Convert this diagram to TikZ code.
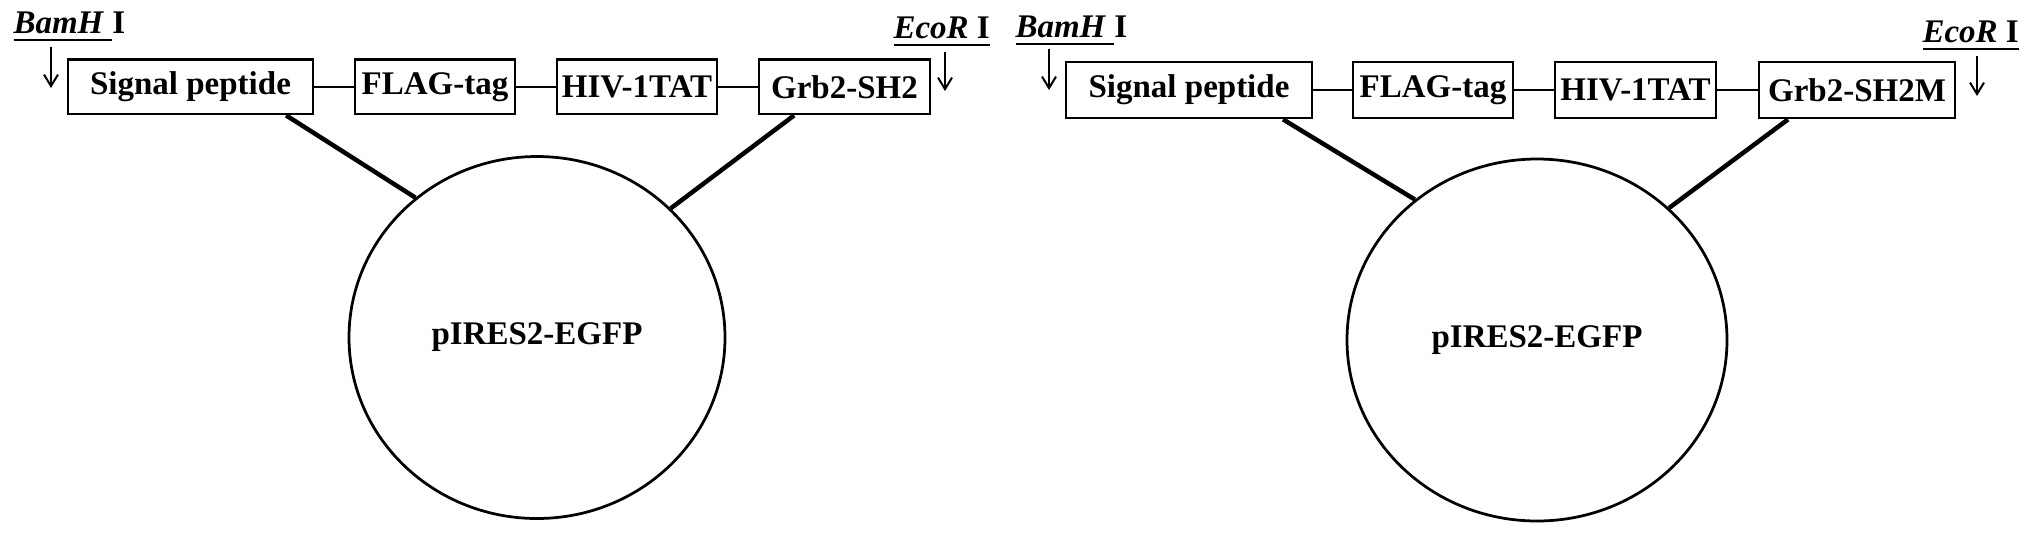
\documentclass[tikz,border=0pt]{standalone}
\usepackage{fontspec}
\setmainfont{Liberation Serif}
\usetikzlibrary{shapes.geometric,arrows.meta,calc}
\newcommand{\ulword}[1]{\setbox0\hbox{#1}\rlap{\rule[-3.3pt]{\wd0}{1.1pt}}\box0}
\begin{document}
\begin{tikzpicture}[x=0.4pt,y=-0.4pt,
  txt/.style={font=\fontsize{13.2pt}{15pt}\selectfont\bfseries},
  lbl/.style={txt, inner sep=0pt, anchor=base west},
  genebox/.style={txt, draw, line width=1.1pt, inner sep=0pt},
  rowa/.style={genebox, minimum height=21.8pt},
  rowb/.style={genebox, minimum height=22.4pt},
  vector/.style={txt, ellipse, draw, line width=1.1pt, inner sep=0pt, minimum height=144.8pt},
  link/.style={line width=1pt},
  stem/.style={line width=1.8pt},
  cut/.style={line width=0.8pt, -{Straight Barb[length=4.6pt,width=5.6pt]}}]
\useasboundingbox (0,0) rectangle (2031,535);

% ---------- left construct ----------
\node[rowa, minimum width=98pt]   (sp1)   at (190.5,86.75) {Signal peptide};
\node[rowa, minimum width=64pt]   (flag1) at (435,86.75)   {FLAG-tag};
\node[rowa, minimum width=64pt]   (hiv1)  at (637,86.75)   {HIV-1TAT};
\node[rowa, minimum width=68.4pt] (grb1)  at (844.5,86.75) {Grb2-SH2};
\draw[link] (sp1) -- (flag1);
\draw[link] (flag1) -- (hiv1);
\draw[link] (hiv1) -- (grb1);
\node[vector, minimum width=150.4pt] (c1) at (537,337.5) {pIRES2-EGFP};
\draw[stem] ($(sp1.south west)!0.886!(sp1.south east)$) -- (c1.131.8);
\draw[stem] ($(grb1.south west)!0.21!(grb1.south east)$) -- (c1.44.2);

\node[lbl] (bam1) at (13,33) {\ulword{\textit{BamH}\ }I};
\node[lbl] (eco1) at (893,38) {\ulword{\textit{EcoR}\ I}};
\coordinate (a1s) at (51,47);  \coordinate (a1e) at (51,88);
\coordinate (e1s) at (945,52); \coordinate (e1e) at (945,91);
\draw[cut] (a1s) -- (a1e);
\draw[cut] (e1s) -- (e1e);

% ---------- right construct ----------
\node[rowb, minimum width=98.4pt] (sp2)   at (1189,90)   {Signal peptide};
\node[rowb, minimum width=64pt]   (flag2) at (1433,90)   {FLAG-tag};
\node[rowb, minimum width=64.4pt] (hiv2)  at (1635.5,90) {HIV-1TAT};
\node[rowb, minimum width=78.4pt] (grb2)  at (1857,90)   {Grb2-SH2M};
\draw[link] (sp2) -- (flag2);
\draw[link] (flag2) -- (hiv2);
\draw[link] (hiv2) -- (grb2);
\node[vector, minimum width=152pt] (c2) at (1537,340) {pIRES2-EGFP};
\draw[stem] ($(sp2.south west)!0.878!(sp2.south east)$) -- (c2.131.7);
\draw[stem] ($(grb2.south west)!0.153!(grb2.south east)$) -- (c2.45.4);

\node[lbl] (bam2) at (1015,37) {\ulword{\textit{BamH}\ }I};
\node[lbl] (eco2) at (1922,42) {\ulword{\textit{EcoR}\ I}};
\coordinate (a2s) at (1049,49); \coordinate (a2e) at (1049,90);
\coordinate (e2s) at (1977,56); \coordinate (e2e) at (1977,96);
\draw[cut] (a2s) -- (a2e);
\draw[cut] (e2s) -- (e2e);
\end{tikzpicture}
\end{document}
